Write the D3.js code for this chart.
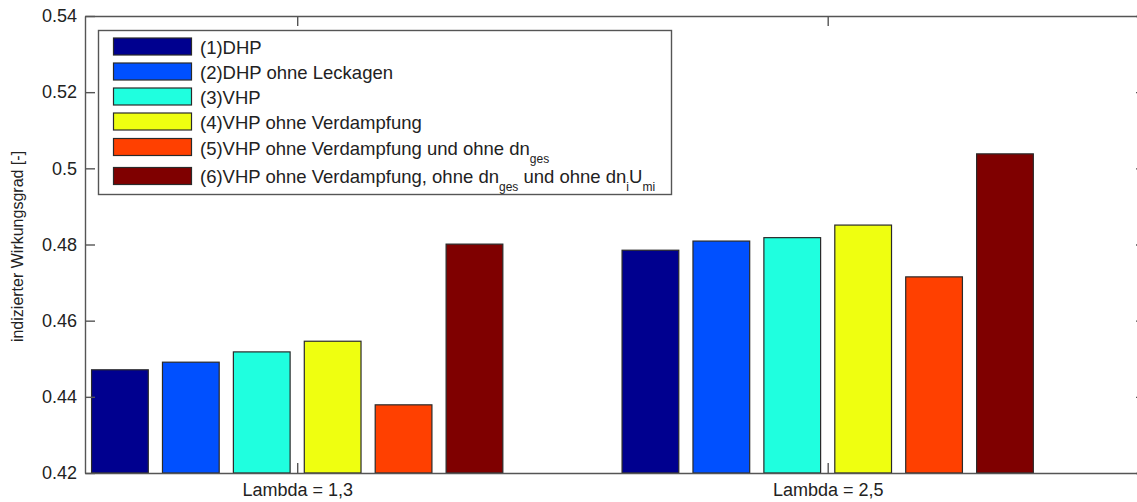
<!DOCTYPE html>
<html>
<head>
<meta charset="utf-8">
<script src="https://cdn.jsdelivr.net/npm/d3@7"></script>
<style>
  html, body { margin: 0; padding: 0; background: #fff; }
  svg { display: block; font-family: "Liberation Sans", Arial, sans-serif; }
</style>
</head>
<body>
<svg id="chart" width="1137" height="502"></svg>
<script>
// Categories (x positions 1 and 2) and their labels
const categories = [1, 2];
const categoryLabels = ["Lambda = 1,3", "Lambda = 2,5"];

// Indicated efficiency per variant, one value per category
const dhp            = [0.4471, 0.4785];
const dhpNoLeak      = [0.4491, 0.4809];
const vhp            = [0.4518, 0.4818];
const vhpNoEvap      = [0.4546, 0.4851];
const vhpNoEvapNoDn  = [0.4379, 0.4715];
const vhpNoEvapNoAll = [0.4801, 0.5038];

const seriesValues = [dhp, dhpNoLeak, vhp, vhpNoEvap, vhpNoEvapNoDn, vhpNoEvapNoAll];
const seriesColors = ["#00008f", "#0050ff", "#1fffdf", "#efff10", "#ff4000", "#7f0000"];

// Legend entries: pieces of [text, subscript?]
const legendLabels = [
  [["(1)DHP", false]],
  [["(2)DHP ohne Leckagen", false]],
  [["(3)VHP", false]],
  [["(4)VHP ohne Verdampfung", false]],
  [["(5)VHP ohne Verdampfung und ohne dn", false], ["ges", true]],
  [["(6)VHP ohne Verdampfung, ohne dn", false], ["ges", true], [" und ohne dn", false], ["i", true], ["U", false], ["mi", true]]
];

const yTicks = [0.42, 0.44, 0.46, 0.48, 0.5, 0.52, 0.54];
const yLabel = "indizierter Wirkungsgrad [-]";

const svg = d3.select("#chart");
const plotLeft = 85, plotRight = 1146, plotTop = 16, plotBottom = 473;
const axisColor = "#555";

const x = d3.scaleLinear().domain([0.6, 2.6]).range([plotLeft, plotRight]);
const y = d3.scaleLinear().domain([0.42, 0.54]).range([plotBottom, plotTop]);

// Bars
const groupHalf = 0.401;
categories.forEach((c, ci) => {
  const inner = d3.scaleBand()
    .domain(d3.range(seriesValues.length))
    .range([x(c - groupHalf), x(c + groupHalf)])
    .paddingInner(0.2)
    .paddingOuter(0.1);
  svg.append("g").selectAll("rect")
    .data(seriesValues.map((s, si) => ({ si, v: s[ci] })))
    .join("rect")
    .attr("x", d => inner(d.si))
    .attr("width", inner.bandwidth())
    .attr("y", d => y(d.v))
    .attr("height", d => y(0.42) - y(d.v))
    .attr("fill", d => seriesColors[d.si])
    .attr("stroke", "#2a2a2a")
    .attr("stroke-width", 1.2);
});

// Frame and axes
const tickLen = 10;
const axisStyle = g => {
  g.select(".domain").attr("stroke", axisColor).attr("stroke-width", 1.4);
  g.selectAll(".tick line").attr("stroke", axisColor).attr("stroke-width", 1.4);
};

svg.append("g")
  .attr("transform", `translate(${plotLeft},0)`)
  .call(d3.axisLeft(y).tickValues(yTicks).tickSize(-tickLen).tickSizeOuter(0)
        .tickFormat(d => d3.format("")(+d.toFixed(2))).tickPadding(8))
  .call(axisStyle)
  .call(g => g.selectAll("text").attr("font-size", 18).attr("fill", "#222")
        .attr("font-family", "Liberation Sans, Arial, sans-serif"));

svg.append("g")
  .attr("transform", `translate(${plotRight},0)`)
  .call(d3.axisRight(y).tickValues(yTicks).tickSize(-tickLen).tickSizeOuter(0).tickFormat(""))
  .call(axisStyle);

svg.append("g")
  .attr("transform", `translate(0,${plotBottom})`)
  .call(d3.axisBottom(x).tickValues(categories).tickSize(-tickLen).tickSizeOuter(0)
        .tickFormat((d, i) => categoryLabels[i]).tickPadding(10))
  .call(axisStyle)
  .call(g => g.selectAll("text").attr("font-size", 18).attr("fill", "#222")
        .attr("font-family", "Liberation Sans, Arial, sans-serif"));

svg.append("g")
  .attr("transform", `translate(0,${plotTop})`)
  .call(d3.axisTop(x).tickValues(categories).tickSize(-tickLen).tickSizeOuter(0).tickFormat(""))
  .call(axisStyle);

// Y axis title
svg.append("text")
  .attr("transform", `translate(23,${(plotTop + plotBottom) / 2 + 2}) rotate(-90)`)
  .attr("text-anchor", "middle")
  .attr("font-size", 16)
  .attr("fill", "#222")
  .text(yLabel);

// Legend
const legend = svg.append("g");
legend.append("rect")
  .attr("x", 98.5).attr("y", 30.5).attr("width", 573).attr("height", 164)
  .attr("fill", "#fff").attr("stroke", axisColor).attr("stroke-width", 1.4);

const swatchCenters = [46.5, 71.5, 96.5, 121.5, 147, 176];
const textBaselines = [54, 79, 104, 129, 154.5, 183];
legendLabels.forEach((parts, i) => {
  legend.append("rect")
    .attr("x", 113.5).attr("y", swatchCenters[i] - 8.5)
    .attr("width", 78).attr("height", 17)
    .attr("fill", seriesColors[i]).attr("stroke", "#2a2a2a").attr("stroke-width", 1.2);
  const t = legend.append("text")
    .attr("x", 200).attr("y", textBaselines[i])
    .attr("font-size", 18.5).attr("fill", "#222");
  let prevSub = false;
  parts.forEach(([txt, sub]) => {
    const ts = t.append("tspan").text(txt);
    if (sub) {
      ts.attr("font-size", 12).attr("dy", prevSub ? 0 : 8);
    } else if (prevSub) {
      ts.attr("dy", -8);
    }
    prevSub = sub;
  });
});
</script>
</body>
</html>
